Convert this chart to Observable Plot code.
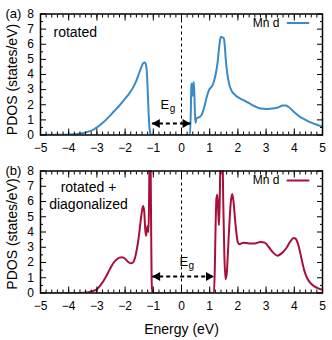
<!DOCTYPE html>
<html><head><meta charset="utf-8">
<script src="https://cdn.jsdelivr.net/npm/d3@7"></script>
<script src="https://cdn.jsdelivr.net/npm/@observablehq/plot@0.6"></script>
<style>
body{margin:0;background:#fff;}
#chart svg{display:block;}
</style>
</head><body><div id="chart"></div>
<script>
// Panel (a): rotated
const energyA = [-5, -4.5, -4, -3.7, -3.5, -3.3, -3.1, -3.0, -2.8, -2.6, -2.4, -2.2, -2.0, -1.85, -1.7, -1.6, -1.5, -1.42, -1.36, -1.31, -1.27, -1.23, -1.2, -1.17, -1.14, -1.11, -1.08, -1.0,
  0.3, 0.33, 0.35, 0.37, 0.39, 0.41, 0.43, 0.45, 0.48, 0.5, 0.53, 0.58, 0.65, 0.72, 0.8, 0.88, 0.95, 1.0, 1.05, 1.1, 1.2, 1.28, 1.33, 1.37, 1.4, 1.45, 1.5, 1.53, 1.57, 1.62, 1.7, 1.8, 1.9, 2.0, 2.2, 2.4, 2.6, 2.8, 3.0, 3.2, 3.4, 3.6, 3.7, 3.8, 4.0, 4.2, 4.4, 4.6, 4.8, 5.0];
const dosA = [0, 0.01, 0.03, 0.07, 0.12, 0.22, 0.38, 0.5, 0.8, 1.15, 1.55, 1.95, 2.4, 2.75, 3.2, 3.6, 4.1, 4.5, 4.75, 4.8, 4.7, 4.2, 3.0, 1.6, 0.6, 0.15, 0, 0,
  0, 1.5, 3.3, 3.4, 2.6, 2.8, 3.5, 3.0, 1.3, 0.8, 1.1, 1.15, 1.2, 1.35, 1.8, 2.4, 2.85, 3.05, 3.15, 3.3, 3.9, 4.8, 5.7, 6.3, 6.5, 6.45, 6.4, 6.0, 5.0, 4.1, 3.3, 2.85, 2.65, 2.5, 2.3, 2.1, 1.9, 1.75, 1.72, 1.75, 1.8, 1.95, 1.95, 1.85, 1.5, 1.2, 1.0, 0.82, 0.68, 0.55];

// Panel (b): rotated + diagonalized
const energyB = [-5, -3.6, -3.3, -3.1, -3.0, -2.9, -2.8, -2.7, -2.6, -2.5, -2.4, -2.3, -2.2, -2.1, -2.0, -1.9, -1.8, -1.72, -1.65, -1.58, -1.5, -1.45, -1.4, -1.36, -1.32, -1.29, -1.26, -1.23, -1.2, -1.17, -1.15, -1.13, -1.1, -1.08, -1.06, -1.04,
  1.15, 1.18, 1.21, 1.24, 1.27, 1.3, 1.33, 1.36, 1.39, 1.45, 1.48, 1.52, 1.56, 1.6, 1.65, 1.7, 1.75, 1.8, 1.85, 1.9, 1.95, 2.0, 2.05, 2.2, 2.4, 2.6, 2.8, 2.95, 3.1, 3.25, 3.4, 3.55, 3.7, 3.85, 3.98, 4.05, 4.15, 4.25, 4.35, 4.45, 4.55, 4.7, 4.85, 5.0];
const dosB = [0, 0, 0.05, 0.15, 0.25, 0.45, 0.7, 1.0, 1.35, 1.7, 2.0, 2.2, 2.32, 2.35, 2.25, 2.05, 1.95, 2.0, 2.3, 2.9, 3.9, 4.7, 5.4, 5.7, 5.3, 4.3, 3.75, 4.1, 4.4, 4.0, 6.0, 9.5, 9.5, 5.0, 1.0, 0,
  0, 1.5, 4.5, 6.2, 6.45, 5.5, 4.45, 6.5, 9.5, 9.5, 6.0, 2.5, 0.9, 1.2, 2.8, 4.6, 6.0, 6.5, 5.9, 4.8, 3.9, 3.3, 3.2, 3.3, 3.25, 3.25, 3.35, 3.3, 3.0, 2.65, 2.45, 2.6, 2.9, 3.35, 3.6, 3.55, 3.1, 2.3, 1.5, 1.0, 0.7, 0.45, 0.3, 0.2];

// Gap arrows (band edges) and arrow heights
const gapA = [-1.05, 0.32];
const gapB = [-1.04, 1.15];
const arrowYA = [0.76];
const arrowYB = [1.08];

// Ticks and labels
const xTicks = [-5, -4, -3, -2, -1, 0, 1, 2, 3, 4, 5];
const yTicks = [0, 1, 2, 3, 4, 5, 6, 7, 8];
const xMinor = d3.ticks(-5, 5, 50);
const yMinor = [0.5, 1.5, 2.5, 3.5, 4.5, 5.5, 6.5, 7.5];
const seriesName = "Mn d";
const panelLabels = ["(a)", "(b)"];
const annotations = ["rotated", "rotated +\ndiagonalized"];
const xLabel = "Energy (eV)";
const yLabel = "PDOS (states/eV)";
const colors = ["#3a8ac8", "#a80f3a"];

const font = "'Liberation Sans', Arial, Helvetica, sans-serif";
const fmt = d => d < 0 ? "\u2212" + Math.abs(d) : String(d);
const lineShape = {draw(c, l) { c.moveTo(0, 0); c.lineTo(0, -l); }};

function panel({energy, dos, color, gap, arrowY, label, note, noteDx, noteDy, egDx, egDy, height, marginTop, marginBottom, showXLabel, legendDy, yLabelDy}) {
  const data = energy.map((e, i) => ({e, v: dos[i]}));
  const mid = (gap[0] + gap[1]) / 2;
  const marks = [
    Plot.ruleX([0], {stroke: "#000", strokeWidth: 1, strokeDasharray: "3,3"}),
    Plot.line(data, {x: "e", y: "v", stroke: color, strokeWidth: 2, curve: "monotone-x", clip: true}),
    Plot.link([gap], {x1: d => d[0], x2: d => d[1], y1: arrowY[0], y2: arrowY[0], stroke: "#000", strokeWidth: 2, strokeDasharray: "4,3"}),
    Plot.dot([gap[0]], {x: d => d, y: arrowY[0], symbol: "triangle", r: 3.4, rotate: -90, fill: "#000", stroke: null, dx: 5.3}),
    Plot.dot([gap[1]], {x: d => d, y: arrowY[0], symbol: "triangle", r: 3.4, rotate: 90, fill: "#000", stroke: null, dx: -5.3}),
    Plot.text(["E"], {x: mid, y: arrowY[0], text: d => d, dx: egDx, dy: egDy, textAnchor: "end", lineAnchor: "bottom", fontSize: 13, fill: "#000"}),
    Plot.text(["g"], {x: mid, y: arrowY[0], text: d => d, dx: egDx + 0.5, dy: egDy + 3, textAnchor: "start", lineAnchor: "bottom", fontSize: 10, fill: "#000"}),
    Plot.text([note], {frameAnchor: "top-left", text: d => d, dx: noteDx, dy: noteDy, textAnchor: note.includes("\n") ? "middle" : "start", lineAnchor: "bottom", lineHeight: 1.15, fontSize: 14, fill: "#000"}),
    Plot.text([seriesName], {frameAnchor: "top-right", text: d => d, dx: -43, dy: legendDy, textAnchor: "end", lineAnchor: "middle", fontSize: 12, fill: "#000"}),
    Plot.vector([0], {frameAnchor: "top-right", length: 21, rotate: 90, anchor: "start", dx: -35, dy: legendDy, shape: lineShape, stroke: color, strokeWidth: 2}),
    Plot.text([label], {frameAnchor: "top-left", text: d => d, dx: -35, dy: 0, textAnchor: "start", lineAnchor: "middle", fontSize: 13, fill: "#000"}),
    Plot.text([yLabel], {frameAnchor: "left", text: d => d, rotate: -90, dx: -28, dy: yLabelDy, textAnchor: "middle", lineAnchor: "middle", fontSize: 14, fill: "#000"}),
    // axes: major/minor inward ticks on all sides
    Plot.axisX(xTicks, {anchor: "bottom", tickSize: -6, fill: "none", label: null}),
    Plot.axisX(xMinor, {anchor: "bottom", tickSize: -3, fill: "none", label: null}),
    Plot.axisX(xTicks, {anchor: "top", tickSize: -6, fill: "none", label: null}),
    Plot.axisX(xMinor, {anchor: "top", tickSize: -3, fill: "none", label: null}),
    Plot.axisX(xTicks, {anchor: "bottom", tickSize: 0, tickPadding: 8, tickFormat: fmt, fontSize: 12, label: null, fill: "#000"}),
    Plot.axisY(yTicks, {anchor: "left", tickSize: -6, fill: "none", label: null}),
    Plot.axisY(yMinor, {anchor: "left", tickSize: -3, fill: "none", label: null}),
    Plot.axisY(yTicks, {anchor: "right", tickSize: -6, fill: "none", label: null}),
    Plot.axisY(yMinor, {anchor: "right", tickSize: -3, fill: "none", label: null}),
    Plot.axisY(yTicks, {anchor: "left", tickSize: 0, tickPadding: 6.5, tickFormat: fmt, fontSize: 12, label: null, fill: "#000"}),
    Plot.frame({stroke: "#000", strokeWidth: 1.5})
  ];
  if (showXLabel) {
    marks.push(Plot.text([xLabel], {frameAnchor: "bottom", text: d => d, dy: 40.5, textAnchor: "middle", lineAnchor: "bottom", fontSize: 14, fill: "#000"}));
  }
  return Plot.plot({
    width: 332, height, marginLeft: 40, marginRight: 10, marginTop, marginBottom,
    style: {fontFamily: font, fontSize: "12px", color: "#000", background: "#fff", overflow: "visible"},
    x: {domain: [-5, 5]},
    y: {domain: [0, 8]},
    marks
  });
}

const root = document.getElementById("chart");
root.appendChild(panel({energy: energyA, dos: dosA, color: colors[0], gap: gapA, arrowY: arrowYA, label: panelLabels[0], note: annotations[0], noteDx: 13, noteDy: 22.5, egDx: -2, egDy: -15, height: 165, marginTop: 13.5, marginBottom: 30.5, showXLabel: false, legendDy: 9, yLabelDy: 5}));
root.appendChild(panel({energy: energyB, dos: dosB, color: colors[1], gap: gapB, arrowY: arrowYB, label: panelLabels[1], note: annotations[1], noteDx: 48, noteDy: 37.5, egDx: 5, egDy: -10.7, height: 175, marginTop: 5.5, marginBottom: 47.5, showXLabel: true, legendDy: 9.5, yLabelDy: 2}));
</script>
</body></html>
